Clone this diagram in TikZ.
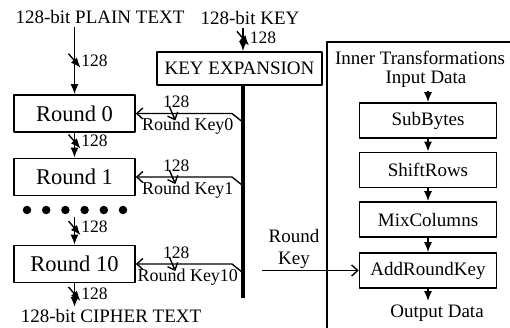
\documentclass[tikz,border=0pt]{standalone}
\usepackage{fontspec}
\setmainfont{Liberation Serif}
\usetikzlibrary{arrows.meta,positioning}

\tikzset{
  roundbox/.style={draw, line width=1.6pt, minimum width=121pt, minimum height=37pt, font=\fontsize{22.5}{26}\selectfont},
  stepbox/.style={draw, line width=1.6pt, minimum width=137pt, minimum height=35pt},
  flow/.style={line width=1.6pt, -{Latex[length=10pt,width=8pt]}},
  keyflow/.style={line width=1.4pt, -{Straight Barb[length=6pt,width=11pt]}},
  bus/.style={line width=4pt},
  dot/.style={circle, fill, minimum size=8.5pt, inner sep=0pt},
  lbl/.style={font=\fontsize{17.5}{19}\selectfont, inner sep=1pt},
  buswidth/.pic={\draw[line width=1.4pt] (-6,-7) -- (6,7);}
}

\begin{document}
\begin{tikzpicture}[x=1pt, y=-1pt, font=\fontsize{19}{22}\selectfont, line join=round]
\useasboundingbox (0,0) rectangle (510,327);

% rounds
\node (ptext) at (100,17) {128-bit PLAIN TEXT};
\node[roundbox] (r0) at (74.5,113.5) {Round 0};
\node[roundbox] (r1) at (74.5,177) {Round 1};
\foreach \i in {0,...,5}
  \node[dot] (dot\i) at (27+19.2*\i,210) {};
\coordinate (dbot) at (74.5,217);
\node[roundbox] (r10) at (74.5,264) {Round 10};
\coordinate (cin) at (74.5,307);
\node[anchor=base, inner sep=1pt] (ctext) at (111,322.5) {128-bit CIPHER TEXT};

\draw[flow] (ptext.south -| r0.north) -- (r0.north)
  pic[pos=.5]{buswidth} node[lbl, pos=.5, right=5pt]{128};
\draw[flow] (r0.south) -- (r1.north)
  pic[pos=.35]{buswidth} node[lbl, pos=.3, right=5pt]{128};
\draw[flow] (dbot) -- (r10.north)
  pic[pos=.4]{buswidth} node[lbl, pos=.35, right=5pt]{128};
\draw[flow] (r10.south) -- (cin)
  pic[pos=.45]{buswidth} node[lbl, pos=.45, right=5pt]{128};

% key expansion
\node (ktext) at (250,18) {128-bit KEY};
\node[draw, line width=1.6pt, minimum width=165pt, minimum height=33pt] (kexp) at (239.5,68.5) {KEY EXPANSION};
\coordinate (kin) at (243,28);
\coordinate (kend) at (243,298);
\draw[flow] (kin) -- (kin |- kexp.north)
  pic[pos=.45]{buswidth} node[lbl, pos=.4, right=5pt]{128};
\draw[bus] (kin |- kexp.south) -- (kend);

\foreach \r/\k in {r0/0, r1/1, r10/10}
  \draw[keyflow] (\r.east -| kend) ++(-1,8) -- ++(-10,-8) -- (\r.east)
    pic[pos=.62, xscale=.5]{buswidth}
    node[lbl, pos=.58, above=4pt]{128}
    node[pos=.46, below=3pt, inner sep=1pt, font=\fontsize{18}{20}\selectfont]{Round Key\k};

% inner transformations
\draw[line width=1.6pt] (327,340) |- (520,42);
\node (title) at (420,58) {Inner Transformations};
\node (indata) at (426,79) {Input Data};
\node[stepbox] (sub) at (428,120.5) {SubBytes};
\node[stepbox] (shift) at (428,170) {ShiftRows};
\node[stepbox] (mix) at (428,219.5) {MixColumns};
\node[stepbox] (add) at (428,270.5) {AddRoundKey};
\node (outdata) at (437,313) {Output Data};

\draw[flow] (sub.north |- indata.south) -- (sub.north);
\draw[flow] (sub.south) -- (shift.north);
\draw[flow] (shift.south) -- (mix.north);
\draw[flow] (mix.south) -- (add.north);
\draw[flow] (add.south) -- (add.south |- outdata.north);

\node[align=center] (rklbl) at (294,249) {Round\\Key};
\coordinate (rkin) at (262,270.5);
\draw[keyflow] (rkin) -- (add.west);
\end{tikzpicture}
\end{document}
